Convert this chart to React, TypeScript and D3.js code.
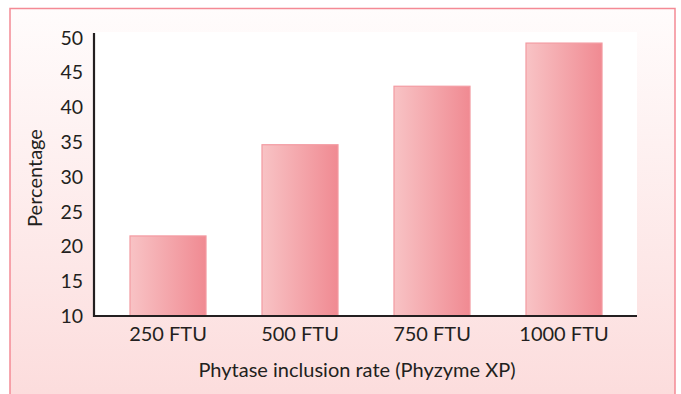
import React from "react";
import * as d3 from "d3";

const categories = ["250 FTU", "500 FTU", "750 FTU", "1000 FTU"];
const values = [21.5, 34.6, 43.0, 49.2];
const yTicks = [10, 15, 20, 25, 30, 35, 40, 45, 50];
const xTitle = "Phytase inclusion rate (Phyzyme XP)";
const yTitle = "Percentage";

export default function App() {
  const W = 681, H = 394;
  const x = d3.scaleBand<string>().domain(categories).range([102, 630]).paddingInner(0.424).paddingOuter(0.212);
  const y = d3.scaleLinear().domain([10, 50]).range([316, 37.5]);
  const font = "'Lato', 'Open Sans', sans-serif";
  return (
    <svg width={W} height={H} style={{ position: "absolute", left: 0, top: 0 }}>
      <defs>
        <linearGradient id="bg" x1="0" y1="0" x2="0" y2="1">
          <stop offset="0" stopColor="#fffcfc" />
          <stop offset="1" stopColor="#fcdcdc" />
        </linearGradient>
        <linearGradient id="bar" x1="0" y1="0" x2="1" y2="0">
          <stop offset="0" stopColor="#f8c3c5" />
          <stop offset="1" stopColor="#f08a92" />
        </linearGradient>
      </defs>
      <rect x={0} y={0} width={W} height={H} fill="#ffffff" />
      <rect x={10} y={8.5} width={665} height={H} fill="url(#bg)" stroke="#f48a95" strokeWidth={1.5} />
      <rect x={95} y={32} width={542} height={284} fill="#ffffff" />
      {categories.map((c, i) => (
        <rect key={c} x={x(c)} y={y(values[i])} width={x.bandwidth()} height={y(10) - y(values[i])}
          fill="url(#bar)" stroke="#f39ba2" strokeWidth={1.2} />
      ))}
      <path d={`M94,33 V${y(10)} H637`} fill="none" stroke="#231f20" strokeWidth={2.2} />
      {yTicks.map(t => (
        <text key={t} x={83} y={y(t)} dy="0.36em" textAnchor="end" fontFamily={font} fontSize={19.5} fill="#231f20">{t}</text>
      ))}
      {categories.map(c => (
        <text key={c} x={(x(c) as number) + x.bandwidth() / 2} y={341} textAnchor="middle" fontFamily={font} fontSize={20} fill="#231f20">{c}</text>
      ))}
      <text x={357} y={377} textAnchor="middle" fontFamily={font} fontSize={20} fill="#231f20">{xTitle}</text>
      <text transform="translate(42,178) rotate(-90)" textAnchor="middle" fontFamily={font} fontSize={20} fill="#231f20">{yTitle}</text>
    </svg>
  );
}
